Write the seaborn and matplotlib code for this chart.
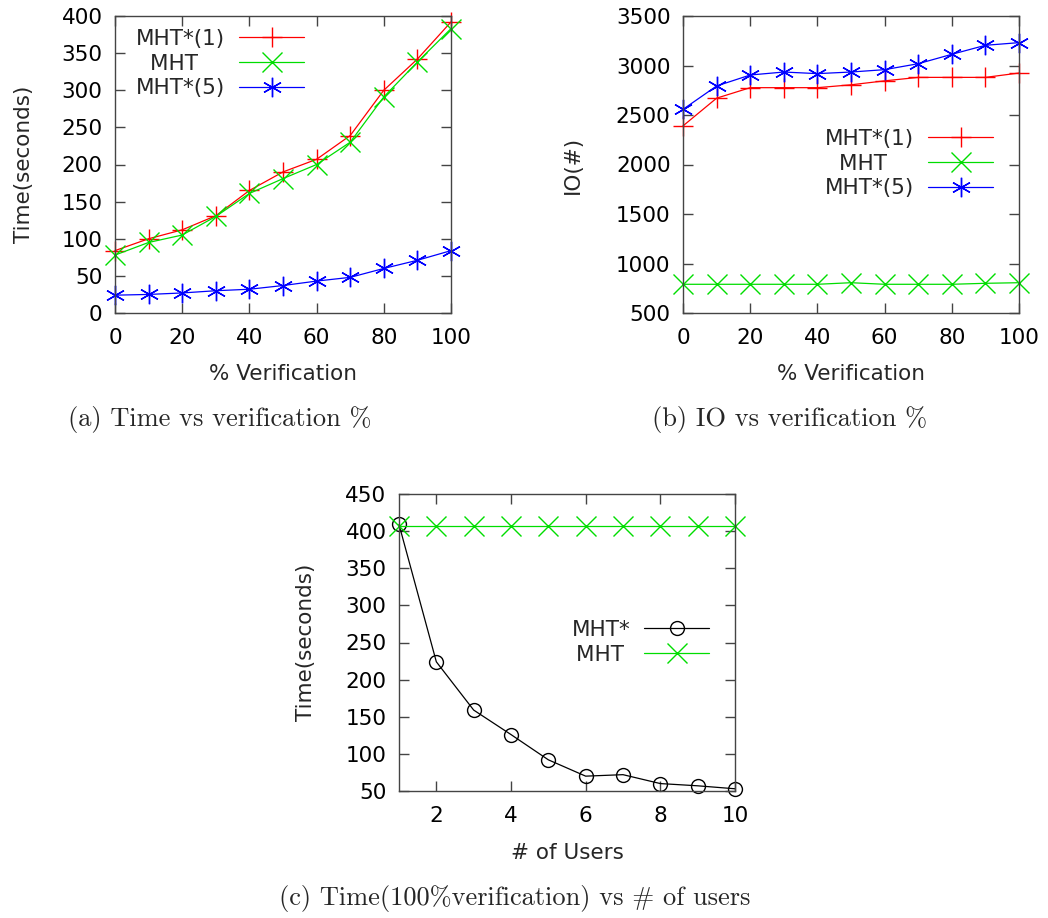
import matplotlib
matplotlib.use("Agg")
import matplotlib.pyplot as plt
import seaborn as sns

# ---------------- data ----------------
verif_pct = [0, 10, 20, 30, 40, 50, 60, 70, 80, 90, 100]
time_mhtstar1 = [84, 100, 112, 131, 165, 190, 207, 239, 300, 342, 392]
time_mht = [78, 95, 105, 130, 161, 181, 200, 230, 291, 338, 383]
time_mhtstar5 = [24, 25, 27, 30, 32, 37, 43, 48, 60, 71, 84]

io_mhtstar1 = [2390, 2670, 2776, 2776, 2776, 2805, 2845, 2880, 2880, 2880, 2924]
io_mht = [790, 790, 790, 790, 790, 806, 790, 790, 790, 800, 806]
io_mhtstar5 = [2557, 2793, 2904, 2934, 2918, 2934, 2958, 3018, 3113, 3204, 3231]

users = [1, 2, 3, 4, 5, 6, 7, 8, 9, 10]
users_mhtstar = [409, 224, 159, 126, 92, 70, 72, 60, 57, 53]
users_mht = [407, 407, 407, 407, 407, 407, 407, 407, 407, 407]

captions = ["(a) Time vs verification %", "(b) IO vs verification %",
            "(c) Time(100%verification) vs # of users"]

# ---------------- style ----------------
sns.set_style("ticks")
plt.rcParams["font.family"] = ["DejaVu Sans"]
FS = 15.5
plt.rcParams["font.size"] = FS

W, H = 1048, 918
fig = plt.figure(figsize=(W / 100, H / 100), dpi=100)


def ax_at(left, top, right, bottom):
    return fig.add_axes([left / W, 1 - bottom / H, (right - left) / W, (bottom - top) / H])


RED, GREEN, BLUE = "#ff0000", "#00dd00", "#0000ff"
STAR = (6, 2, 0)
spine_c = "#444444"


def style_axes(ax):
    for s in ax.spines.values():
        s.set_color(spine_c)
        s.set_linewidth(1.0)
    ax.tick_params(direction="in", top=True, right=True, length=7, width=1.0,
                   color=spine_c, labelsize=FS, labelcolor="black")
    ax.tick_params(axis="x", pad=11)
    ax.tick_params(axis="y", pad=9)


def line(ax, x, y, color, marker, label, ms=14, mfc=None):
    kw = dict(markersize=ms, markeredgecolor=color, markeredgewidth=1.0)
    if mfc is not None:
        kw["markerfacecolor"] = mfc
    sns.lineplot(x=x, y=y, ax=ax, color=color, marker=marker, linewidth=0.9,
                 label=label, **kw)


def legend(ax, right_px, top_px, pads):
    handles, labels = ax.get_legend_handles_labels()
    labels = [lab + "\u00a0" * p for lab, p in zip(labels, pads)]
    ax.legend(handles, labels, loc="upper right",
              bbox_to_anchor=(right_px / W, 1 - top_px / H),
              bbox_transform=fig.transFigure, frameon=False, markerfirst=False,
              handlelength=3.0, handletextpad=0.65, labelspacing=0.22,
              borderpad=0, borderaxespad=0, fontsize=FS)


# ---- (a) ----
axa = ax_at(115, 16, 451, 313)
line(axa, verif_pct, time_mhtstar1, RED, "+", "MHT*(1)")
line(axa, verif_pct, time_mht, GREEN, "x", "MHT")
line(axa, verif_pct, time_mhtstar5, BLUE, STAR, "MHT*(5)")
axa.set_xlim(0, 100)
axa.set_ylim(0, 400)
axa.set_xticks([0, 20, 40, 60, 80, 100])
axa.set_yticks(range(0, 401, 50))
axa.set_xlabel("% Verification", fontsize=FS, labelpad=11)
axa.set_ylabel("Time(seconds)", fontsize=FS, labelpad=20)
style_axes(axa)
legend(axa, 304, 29, [0, 4, 0])

# ---- (b) ----
axb = ax_at(683, 16, 1019, 313)
line(axb, verif_pct, io_mhtstar1, RED, "+", "MHT*(1)")
line(axb, verif_pct, io_mht, GREEN, "x", "MHT")
line(axb, verif_pct, io_mhtstar5, BLUE, STAR, "MHT*(5)")
axb.set_xlim(0, 100)
axb.set_ylim(500, 3500)
axb.set_xticks([0, 20, 40, 60, 80, 100])
axb.set_yticks(range(500, 3501, 500))
axb.set_xlabel("% Verification", fontsize=FS, labelpad=11)
axb.set_ylabel("IO(#)", fontsize=FS, labelpad=24)
style_axes(axb)
legend(axb, 993, 129, [0, 4, 0])

# ---- (c) ----
axc = ax_at(399, 494, 735, 791)
line(axc, users, users_mhtstar, "black", "o", "MHT*", ms=10, mfc="none")
line(axc, users, users_mht, GREEN, "x", "MHT")
axc.set_xlim(1, 10)
axc.set_ylim(50, 450)
axc.set_xticks([2, 4, 6, 8, 10])
axc.set_yticks(range(50, 451, 50))
axc.set_xlabel("# of Users", fontsize=FS, labelpad=12)
axc.set_ylabel("Time(seconds)", fontsize=FS, labelpad=21)
style_axes(axc)
legend(axc, 709, 620, [0, 1])

for a in (axa, axb, axc):
    for ln in a.get_lines():
        ln.set_clip_on(False)

# ---- captions ----
cap_font = ["cmr10", "DejaVu Serif"]
CFS = 19
fig.text(220 / W, 1 - 420 / H, captions[0], ha="center", va="center",
         fontsize=CFS, family=cap_font)
fig.text(790 / W, 1 - 420 / H, captions[1], ha="center", va="center",
         fontsize=CFS, family=cap_font)
fig.text(515 / W, 1 - 898 / H, captions[2], ha="center", va="center",
         fontsize=CFS, family=cap_font)

fig.savefig("out.png", dpi=100, facecolor="white")
